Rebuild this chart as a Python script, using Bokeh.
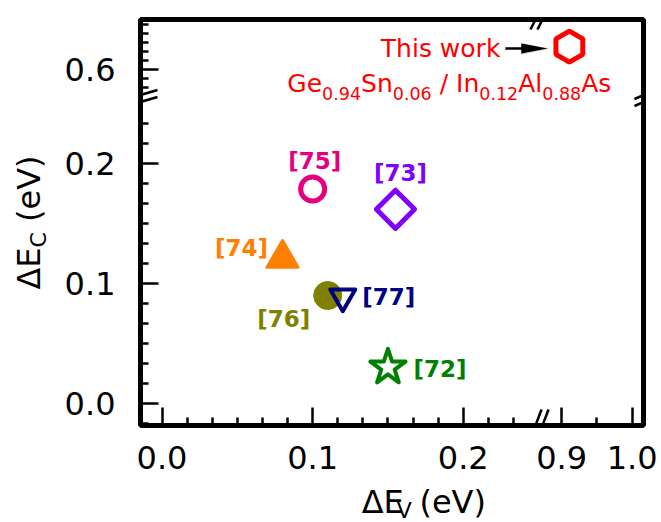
import numpy as np
from bokeh.plotting import figure
from bokeh.layouts import row, column
from bokeh.models import (ColumnDataSource, Range1d, FixedTicker, Arrow, PolyAnnotation)
from bokeh.core.properties import value
from bokeh.embed import file_html
from bokeh.resources import INLINE

# ---------------- data ----------------
refs = ["[72]", "[73]", "[74]", "[75]", "[76]", "[77]"]
delta_ev = [0.150, 0.155, 0.080, 0.100, 0.110, 0.120]
delta_ec = [0.030, 0.162, 0.121, 0.179, 0.090, 0.089]

this_work_ev = [0.911]
this_work_ec = [0.642]
this_work_text = "This work"
structure_parts = [("Ge", False), ("0.94", True), ("Sn", False), ("0.06", True),
                   ("\u00a0/\u00a0In", False), ("0.12", True), ("Al", False), ("0.88", True),
                   ("As", False)]

x_ticks_low = [0.0, 0.1, 0.2]
x_ticks_high = [0.9, 1.0]
y_ticks_low = [0.0, 0.1, 0.2]
y_ticks_high = [0.6]

x_label_parts = [("ΔE", False), ("V", True), ("\u00a0(eV)", False)]
y_label_parts = [("ΔE", False), ("C", True), ("\u00a0(eV)", False)]

# visible data limits on each side of the axis breaks
x_seg_low = (-0.0143, 0.2503)
x_seg_high = (0.868, 1.016)
y_seg_low = (-0.0186, 0.2546)
y_seg_high = (0.547, 0.6916)

# ---------------- styles ----------------
FONT = "DejaVu Sans"
marker_style = {
    "[72]": dict(marker="star", color="#008000", size=37, lw=4, filled=False, angle=0.0, dx=52, dy=2),
    "[73]": dict(marker="square", color="#8000ff", size=27, lw=5, filled=False, angle=np.pi / 4, dx=5, dy=-36),
    "[74]": dict(marker="triangle", color="#ff8000", size=31, lw=3, filled=True, angle=0.0, dx=-41, dy=-10),
    "[75]": dict(marker="circle", color="#e6007e", size=24, lw=5, filled=False, angle=0.0, dx=2, dy=-28),
    "[76]": dict(marker="circle", color="#808000", size=28, lw=1, filled=True, angle=0.0, dx=-44, dy=23),
    "[77]": dict(marker="inverted_triangle", color="#000080", size=25, lw=4, filled=False, angle=0.0, dx=46, dy=0),
}

PAGE_W, PAGE_H = 661, 522
YLAB_W = 56          # strip on the left holding the y-axis title
XLAB_H = 39          # strip at the bottom holding the x-axis title
FIG_W, FIG_H = PAGE_W - YLAB_W, PAGE_H - XLAB_H
B_LEFT, B_RIGHT, B_TOP = 140 - YLAB_W, 18, 19
B_BOTTOM = FIG_H - B_TOP - 406
FW = FIG_W - B_LEFT - B_RIGHT
FH = FIG_H - B_TOP - B_BOTTOM
X_SPLIT = 398.5   # px from frame left to the x break
Y_SPLIT = 79.0    # px from frame top to the y break

TICK_FS = 32
LAB_FS, SUB_FS = 32, 22
RED_FS, RED_SUB_FS = 25, 17.5
MID = 0.35        # baseline sits this many em below a "middle"-anchored y

# DejaVu Sans advance widths (em)
ADV = {' ': 0.318, '\u00a0': 0.318, '.': 0.318, '/': 0.337, '(': 0.390, ')': 0.390,
       'Δ': 0.684, 'A': 0.684, 'C': 0.698, 'E': 0.632, 'G': 0.775, 'I': 0.295,
       'S': 0.635, 'T': 0.611, 'V': 0.684, 'e': 0.615, 'l': 0.278, 'n': 0.634, 's': 0.521}


def text_w(s, fs):
    return sum(ADV.get(c, 0.636) for c in s) * fs


# ---------------- ranges ----------------
xr = Range1d(x_seg_low[0], x_seg_low[0] + (x_seg_low[1] - x_seg_low[0]) * FW / X_SPLIT)
xr_hi = Range1d(x_seg_high[1] - (x_seg_high[1] - x_seg_high[0]) * FW / (FW - X_SPLIT), x_seg_high[1])
yr = Range1d(y_seg_low[0], y_seg_low[0] + (y_seg_low[1] - y_seg_low[0]) * FH / (FH - Y_SPLIT))
yr_hi = Range1d(y_seg_high[1] - (y_seg_high[1] - y_seg_high[0]) * FH / Y_SPLIT, y_seg_high[1])

sx = FW / (xr.end - xr.start)
sx_hi = FW / (xr_hi.end - xr_hi.start)
sy = FH / (yr.end - yr.start)
sy_hi = FH / (yr_hi.end - yr_hi.start)


def xhi_to_lo(v):
    return xr.start + (v - xr_hi.start) * sx_hi / sx


def yhi_to_lo(v):
    return yr.start + (v - yr_hi.start) * sy_hi / sy


p = figure(width=FIG_W, height=FIG_H, x_range=xr, y_range=yr,
           output_backend="svg", toolbar_location=None,
           min_border_left=B_LEFT, min_border_right=B_RIGHT,
           min_border_top=B_TOP, min_border_bottom=B_BOTTOM)
p.extra_x_ranges = {"hi": xr_hi}
p.extra_y_ranges = {"hi": yr_hi}
p.xgrid.visible = False
p.ygrid.visible = False
p.outline_line_color = "black"
p.outline_line_width = 5
p.background_fill_color = "white"
p.border_fill_color = "white"

# ---------------- axes ----------------
x_major = list(x_ticks_low) + [xhi_to_lo(v) for v in x_ticks_high]
x_lab = [f"{v:.1f}" for v in x_ticks_low + x_ticks_high]
x_minor = [k / 60 for k in range(-1, 16)
           if k % 6 and x_seg_low[0] < k / 60 < x_seg_low[1] - 0.01]
x_minor += [xhi_to_lo(0.9 + k * 0.05) for k in range(-3, 4)
            if k % 2 and x_seg_high[0] + 0.01 < 0.9 + k * 0.05 < x_seg_high[1]]

y_major = list(y_ticks_low) + [yhi_to_lo(v) for v in y_ticks_high]
y_lab = [f"{v:.1f}" for v in y_ticks_low + y_ticks_high]
y_minor = [k / 60 for k in range(-1, 16)
           if k % 6 and y_seg_low[0] < k / 60 < y_seg_low[1] - 0.01]
y_minor += [yhi_to_lo(0.6 + k / 60) for k in range(-4, 7)
            if k % 6 and y_seg_high[0] + 0.01 < 0.6 + k / 60 < y_seg_high[1]]

p.xaxis.ticker = FixedTicker(ticks=x_major, minor_ticks=x_minor)
p.xaxis.major_label_overrides = {float(t): l for t, l in zip(x_major, x_lab)}
p.yaxis.ticker = FixedTicker(ticks=y_major, minor_ticks=y_minor)
p.yaxis.major_label_overrides = {float(t): l for t, l in zip(y_major, y_lab)}

for ax in (p.xaxis[0], p.yaxis[0]):
    ax.axis_line_color = None
    ax.major_tick_in = 18
    ax.major_tick_out = 0
    ax.minor_tick_in = 8
    ax.minor_tick_out = 0
    ax.major_tick_line_width = 2.5
    ax.minor_tick_line_width = 2.5
    ax.major_tick_line_color = "black"
    ax.minor_tick_line_color = "black"
    ax.major_label_text_font = FONT
    ax.major_label_text_font_size = f"{TICK_FS}px"
    ax.major_label_text_color = "black"
p.xaxis.major_label_standoff = 20
p.yaxis.major_label_standoff = 25

# ---------------- break marks ----------------
def break_marks(cx, cy, hx, hy, sepx, sepy):
    for s in (-1, 1):
        ox, oy = s * sepx, s * sepy
        p.add_layout(Arrow(end=None, x_start=cx + (ox - hx) / sx, y_start=cy + (oy - hy) / sy,
                           x_end=cx + (ox + hx) / sx, y_end=cy + (oy + hy) / sy,
                           line_color="black", line_width=2.5))


break_marks(xr.start, y_seg_low[1], 17, 5, 0, 3.5)
break_marks(xr.end, y_seg_low[1], 9, 4, 0, 3.5)
break_marks(x_seg_low[1], yr.end, 5, 10, 3.5, 0)
break_marks(x_seg_low[1], yr.start, 6, 16, 3.5, 0)

# ---------------- reference points ----------------
st = [marker_style[r] for r in refs]
src = ColumnDataSource(dict(
    x=delta_ev, y=delta_ec, ref=refs,
    marker=[s["marker"] for s in st], color=[s["color"] for s in st],
    size=[s["size"] for s in st], lw=[s["lw"] for s in st],
    fa=[1.0 if s["filled"] else 0.0 for s in st], angle=[s["angle"] for s in st],
    dx=[s["dx"] for s in st], dy=[s["dy"] for s in st]))

p.scatter(x="x", y="y", marker="marker", size="size", angle="angle",
          line_color="color", fill_color="color", fill_alpha="fa", line_width="lw",
          line_join="round", source=src)
p.text(x="x", y="y", text="ref", x_offset="dx", y_offset="dy", text_color="color",
       text_font=value(FONT), text_font_style="bold", text_font_size=value("23px"),
       text_align="center", text_baseline="middle", source=src)

# ---------------- this work ----------------
hx0, hy0 = this_work_ev[0], this_work_ec[0]
p.scatter(x=this_work_ev, y=this_work_ec, marker="hex", angle=np.pi / 2, size=31,
          line_color="red", line_width=5, fill_alpha=0, x_range_name="hi", y_range_name="hi")
p.text(x=this_work_ev, y=this_work_ec, text=[this_work_text], x_offset=-69, y_offset=2,
       text_align="right", text_baseline="middle", text_color="red",
       text_font=value(FONT), text_font_size=value(f"{RED_FS}px"),
       x_range_name="hi", y_range_name="hi")

hx_lo, hy_lo = xhi_to_lo(hx0), yhi_to_lo(hy0) - 2 / sy
p.add_layout(Arrow(end=None, x_start=hx_lo - 64 / sx, y_start=hy_lo, x_end=hx_lo - 44 / sx, y_end=hy_lo,
                   line_color="black", line_width=2.5))
p.add_layout(PolyAnnotation(xs=[hx_lo - 22 / sx, hx_lo - 48 / sx, hx_lo - 48 / sx],
                            ys=[hy_lo, hy_lo + 5 / sy, hy_lo - 5 / sy],
                            fill_color="black", fill_alpha=1, line_color="black", line_width=1))

total = sum(text_w(s, RED_SUB_FS if sub else RED_FS) for s, sub in structure_parts)
pos = 42 - total
m_txt, m_off, s_txt, s_off = [], [], [], []
for s, sub in structure_parts:
    if sub:
        s_txt.append(s); s_off.append(pos)
    else:
        m_txt.append(s); m_off.append(pos)
    pos += text_w(s, RED_SUB_FS if sub else RED_FS)

p.text(x=[hx0] * len(m_txt), y=[hy0] * len(m_txt), text=m_txt, x_offset=m_off,
       y_offset=46 - MID * RED_FS,
       text_align="left", text_baseline="middle", text_color="red",
       text_font=value(FONT), text_font_size=value(f"{RED_FS}px"),
       x_range_name="hi", y_range_name="hi")
p.text(x=[hx0] * len(s_txt), y=[hy0] * len(s_txt), text=s_txt, x_offset=s_off,
       y_offset=53 - MID * RED_SUB_FS,
       text_align="left", text_baseline="middle", text_color="red",
       text_font=value(FONT), text_font_size=value(f"{RED_SUB_FS}px"),
       x_range_name="hi", y_range_name="hi")


# ---------------- axis titles (with subscripts) in thin strips ----------------
def strip(w, h, x0, y0):
    f = figure(width=w, height=h, x_range=Range1d(x0, x0 + w), y_range=Range1d(y0 + h, y0),
               output_backend="svg", toolbar_location=None,
               x_axis_type=None, y_axis_type=None, min_border=0)
    f.outline_line_color = None
    f.xgrid.visible = False
    f.ygrid.visible = False
    f.background_fill_color = "white"
    f.border_fill_color = "white"
    return f


def title_pieces(parts):
    total = sum(text_w(s, SUB_FS if sub else LAB_FS) for s, sub in parts)
    pos = -total / 2
    out = []
    for s, sub in parts:
        fs = SUB_FS if sub else LAB_FS
        out.append((s, sub, pos, fs))
        pos += text_w(s, fs)
    return out


frame_cx = 140 + FW / 2 - 2.5
frame_cy = B_TOP + FH / 2

xt = strip(FIG_W, XLAB_H, YLAB_W, FIG_H)
for s, sub, pos, fs in title_pieces(x_label_parts):
    base = 518 if sub else 513
    xt.text(x=[frame_cx + pos], y=[base - MID * fs], text=[s], text_align="left",
            text_baseline="middle", text_color="black", text_font=value(FONT),
            text_font_size=value(f"{fs}px"))

yt = strip(YLAB_W, PAGE_H, 0, 0)
for s, sub, pos, fs in title_pieces(y_label_parts):
    base = 46 if sub else 40
    yt.text(x=[base - MID * fs], y=[frame_cy - pos], text=[s], angle=np.pi / 2,
            text_align="left", text_baseline="middle", text_color="black",
            text_font=value(FONT), text_font_size=value(f"{fs}px"))

layout = row(yt, column(p, xt))
open("out.html", "w").write(file_html(layout, INLINE))
